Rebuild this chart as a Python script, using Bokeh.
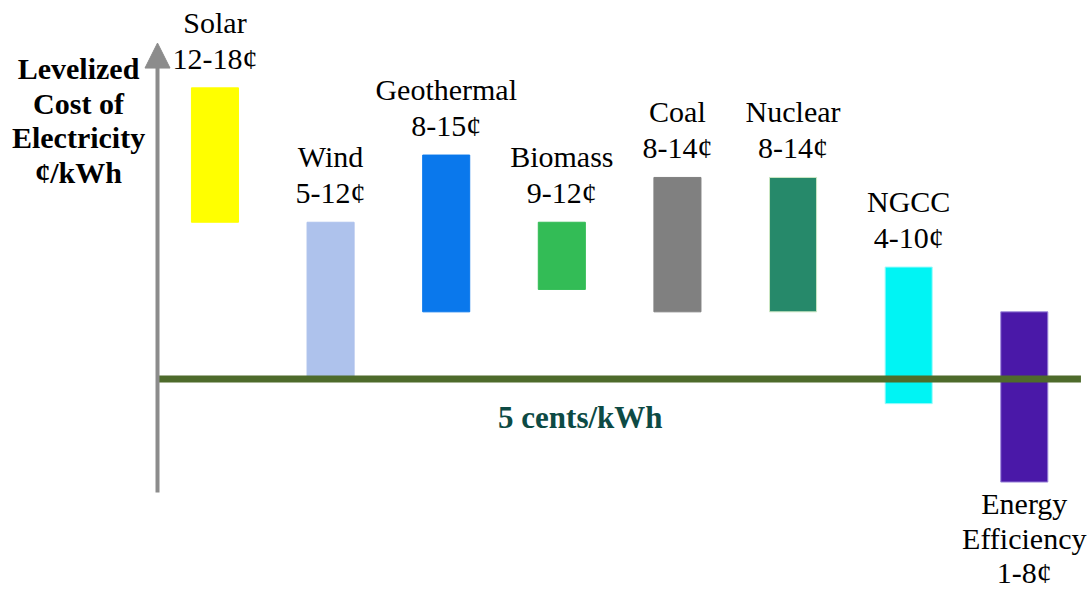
from bokeh.plotting import figure
from bokeh.models import ColumnDataSource, Range1d, Arrow, NormalHead
from bokeh.embed import file_html
from bokeh.resources import INLINE
from bokeh.core.properties import value

# ---- data ----
categories = ["Solar", "Wind", "Geothermal", "Biomass", "Coal", "Nuclear", "NGCC", "Energy\nEfficiency"]
range_labels = ["12-18¢", "5-12¢", "8-15¢", "9-12¢", "8-14¢", "8-14¢", "4-10¢", "1-8¢"]
cost_low = [12, 5, 8, 9, 8, 8, 3.9, 0.4]
cost_high = [18, 12, 15, 12, 14, 14, 10, 8]
reference_cost = 5
reference_label = "5 cents/kWh"
axis_title = "Levelized\nCost of\nElectricity\n¢/kWh"

fill_colors = ["#FFFF00", "#AEC2EC", "#0A78EC", "#33BC56", "#808080", "#26896A", "#00F4F4", "#4A18A8"]
edge_colors = ["#FFFF00", "#AEC2EC", "#0A78EC", "#33BC56", "#808080", "#CDE8C4", "#9EFAFA", "#9C86DA"]

FONT = "'Liberation Serif', 'Times New Roman', serif"

idx = list(range(len(categories)))
src = ColumnDataSource(dict(x=idx, low=cost_low, high=cost_high,
                            fill=fill_colors, edge=edge_colors,
                            label=[f"{c}\n{r}" for c, r in zip(categories, range_labels)]))

p = figure(width=1092, height=594, output_backend="svg", toolbar_location=None,
           x_range=Range1d(-1.855, 7.59), y_range=Range1d(-4.62, 21.9),
           min_border=0, min_border_left=0, min_border_right=0,
           min_border_top=0, min_border_bottom=0)
p.axis.visible = False
p.grid.visible = False
p.outline_line_color = None
p.background_fill_color = "white"
p.border_fill_color = "white"

# bars
p.vbar(x="x", bottom="low", top="high", width=0.407, fill_color="fill",
       line_color="edge", line_width=1, source=src)

# reference line
p.segment(x0=[-0.5], y0=[reference_cost], x1=[7.49], y1=[reference_cost],
          line_color="#4E6B2B", line_width=7)

# vertical axis arrow
p.add_layout(Arrow(x_start=-0.497, y_start=-0.07, x_end=-0.497, y_end=20.0,
                   line_color="#8C8C8C", line_width=4,
                   end=NormalHead(size=25, fill_color="#8C8C8C", line_color="#8C8C8C")))

# labels above bars (all but efficiency), below for efficiency
above = [i for i, c in enumerate(categories) if not c.startswith("Energy")]
below = [i for i, c in enumerate(categories) if c.startswith("Energy")]

def sub(ids):
    d = src.data
    return ColumnDataSource({k: [d[k][i] for i in ids] for k in d})

p.text(x="x", y="high", text="label", source=sub(above), text_align="center",
       text_baseline="bottom", y_offset=-13, text_font=value(FONT),
       text_font_size="30px", text_color="black", text_line_height=1.1)
p.text(x="x", y="low", text="label", source=sub(below), text_align="center",
       text_baseline="top", y_offset=5, text_font=value(FONT),
       text_font_size="30px", text_color="black", text_line_height=1.05)

# reference text
p.text(x=[3.16], y=[reference_cost], text=[reference_label], text_align="center",
       text_baseline="middle", y_offset=38, text_font=value(FONT),
       text_font_size="31px", text_font_style="bold", text_color="#0D4A44")

# axis title
p.text(x=[-1.18], y=[16.54], text=[axis_title], text_align="center",
       text_baseline="middle", text_font=value(FONT), text_font_size="30px",
       text_font_style="bold", text_color="black", text_line_height=1.05)

open("out.html", "w").write(file_html(p, INLINE))
